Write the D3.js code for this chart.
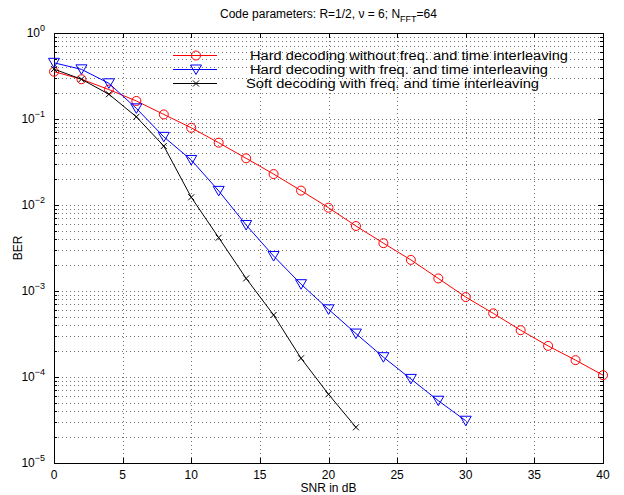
<!DOCTYPE html>
<html lang="en">
<head>
    <meta charset="UTF-8">
    <title>BER vs SNR</title>
    <script src="https://d3js.org/d3.v7.js"></script>
    <style>
        body { margin: 0; background: #fff; }
        text { font-family: "Liberation Sans", Arial, sans-serif; fill: #000; }
    </style>
</head>
<body>
<script>
    // SNR points (dB)
    const snrHard = [0, 2, 4, 6, 8, 10, 12, 14, 16, 18, 20, 22, 24, 26, 28, 30, 32, 34, 36, 38, 40];
    const snrHardIl = [0, 2, 4, 6, 8, 10, 12, 14, 16, 18, 20, 22, 24, 26, 28, 30];
    const snrSoftIl = [0, 2, 4, 6, 8, 10, 12, 14, 16, 18, 20, 22];

    // BER values
    const berHard = [0.355, 0.29, 0.22, 0.162, 0.113, 0.079, 0.053, 0.0349, 0.0229, 0.0147, 0.0093,
        0.0057, 0.0036, 0.0023, 0.0014, 0.00085, 0.00055, 0.00035, 0.00023, 0.000157, 0.000105];
    const berHardIl = [0.45, 0.378, 0.26, 0.133, 0.062, 0.0334, 0.0146, 0.00585, 0.00255, 0.0012, 0.000612,
        0.00032, 0.00017, 0.000095, 0.000053, 0.000031];
    const berSoftIl = [0.38, 0.29, 0.194, 0.106, 0.0485, 0.0123, 0.00417, 0.0014, 0.000526, 0.000165, 0.000063, 0.000026];

    const legendLabels = [
        "Hard decoding without freq. and time interleaving",
        "Hard decoding with freq. and time interleaving",
        "Soft decoding with freq. and time interleaving"
    ];
    const xTicks = [0, 5, 10, 15, 20, 25, 30, 35, 40];
    const yExps = [0, -1, -2, -3, -4, -5];

    const width = 624, height = 495;
    const m = {left: 54, top: 33, right: 21, bottom: 32};
    const w = width - m.left - m.right, h = height - m.top - m.bottom;

    const svg = d3.select("body").append("svg")
        .attr("width", width).attr("height", height);

    const x = d3.scaleLinear().domain([0, 40]).range([m.left, m.left + w]);
    const y = d3.scaleLog().domain([1e-5, 1]).range([m.top + h, m.top]);

    // minor positions on the log axis
    const minor = [];
    yExps.slice(1).forEach(e => { for (let k = 2; k <= 9; k++) minor.push(k * Math.pow(10, e)); });

    const grid = svg.append("g").attr("stroke", "#000").attr("stroke-width", 1)
        .attr("stroke-dasharray", "1,3").attr("opacity", 0.55);
    grid.selectAll("line.gx").data(xTicks.slice(1, -1)).enter().append("line")
        .attr("x1", d => Math.round(x(d)) + 0.5).attr("x2", d => Math.round(x(d)) + 0.5)
        .attr("y1", m.top).attr("y2", m.top + h);
    grid.selectAll("line.gy").data(minor.concat(yExps.slice(1, -1).map(e => Math.pow(10, e)))).enter().append("line")
        .attr("y1", d => Math.round(y(d)) + 0.5).attr("y2", d => Math.round(y(d)) + 0.5)
        .attr("x1", m.left).attr("x2", m.left + w);

    // box
    svg.append("rect").attr("x", m.left + 0.5).attr("y", m.top + 0.5)
        .attr("width", w).attr("height", h)
        .attr("fill", "none").attr("stroke", "#000").attr("stroke-width", 1);

    // ticks (inside, both sides)
    const ticks = svg.append("g").attr("stroke", "#000").attr("stroke-width", 1);
    xTicks.forEach(t => {
        const xx = Math.round(x(t)) + 0.5;
        ticks.append("line").attr("x1", xx).attr("x2", xx).attr("y1", m.top + h).attr("y2", m.top + h - 5);
        ticks.append("line").attr("x1", xx).attr("x2", xx).attr("y1", m.top).attr("y2", m.top + 5);
    });
    yExps.forEach(e => {
        const yy = Math.round(y(Math.pow(10, e))) + 0.5;
        ticks.append("line").attr("y1", yy).attr("y2", yy).attr("x1", m.left).attr("x2", m.left + 5);
        ticks.append("line").attr("y1", yy).attr("y2", yy).attr("x1", m.left + w).attr("x2", m.left + w - 5);
    });
    minor.forEach(v => {
        const yy = Math.round(y(v)) + 0.5;
        ticks.append("line").attr("y1", yy).attr("y2", yy).attr("x1", m.left).attr("x2", m.left + 3);
        ticks.append("line").attr("y1", yy).attr("y2", yy).attr("x1", m.left + w).attr("x2", m.left + w - 3);
    });

    // tick labels
    svg.append("g").selectAll("text").data(xTicks).enter().append("text")
        .attr("x", d => x(d)).attr("y", m.top + h + 16)
        .attr("text-anchor", "middle").attr("font-size", 12).text(d => d);

    const yl = svg.append("g").selectAll("text").data(yExps).enter().append("text")
        .attr("x", m.left - 9).attr("y", d => y(Math.pow(10, d)) + 4)
        .attr("text-anchor", "end").attr("font-size", 12);
    yl.append("tspan").text("10");
    yl.append("tspan").attr("font-size", 9).attr("dy", -6).text(d => d === 0 ? "0" : "\u2212" + (-d));

    // axis titles
    svg.append("text").attr("x", m.left + w / 2).attr("y", height - 3)
        .attr("text-anchor", "middle").attr("font-size", 12).text("SNR in dB");
    svg.append("text").attr("transform", `translate(22,${m.top + h / 2}) rotate(-90)`)
        .attr("text-anchor", "middle").attr("font-size", 12).text("BER");

    const title = svg.append("text").attr("x", m.left + w / 2).attr("y", 18)
        .attr("text-anchor", "middle").attr("font-size", 12);
    title.append("tspan").text("Code parameters: R=1/2, \u03bd = 6; N");
    title.append("tspan").attr("font-size", 9).attr("dy", 4).text("FFT");
    title.append("tspan").attr("dy", -4).text("=64");

    // series
    const series = [
        {xs: snrHard, ys: berHard, color: "#ff0000", marker: "circle"},
        {xs: snrHardIl, ys: berHardIl, color: "#0000ff", marker: "tri"},
        {xs: snrSoftIl, ys: berSoftIl, color: "#000000", marker: "x"}
    ];
    const line = d3.line().x(d => x(d[0])).y(d => y(d[1]));

    function drawMarker(g, cx, cy, s) {
        if (s.marker === "circle") {
            g.append("circle").attr("cx", cx).attr("cy", cy).attr("r", 4.5)
                .attr("fill", "none").attr("stroke", s.color).attr("stroke-width", 1);
        } else if (s.marker === "tri") {
            g.append("path").attr("d", `M${cx - 5.5},${cy - 4.5}L${cx + 5.5},${cy - 4.5}L${cx},${cy + 5}Z`)
                .attr("fill", "none").attr("stroke", s.color).attr("stroke-width", 1);
        } else {
            g.append("path").attr("d", `M${cx - 3},${cy - 3}L${cx + 3},${cy + 3}M${cx - 3},${cy + 3}L${cx + 3},${cy - 3}`)
                .attr("stroke", s.color).attr("stroke-width", 1);
        }
    }

    series.forEach(s => {
        const pts = s.xs.map((v, i) => [v, s.ys[i]]);
        const g = svg.append("g");
        g.append("path").datum(pts).attr("d", line)
            .attr("fill", "none").attr("stroke", s.color).attr("stroke-width", 1);
        pts.forEach(p => drawMarker(g, x(p[0]), y(p[1]), s));
    });

    // legend (no box)
    const legY = [55.5, 69.5, 83.5];
    const legTextX = [250, 250, 246];
    const legTextLen = [318, 298, 293];
    series.forEach((s, i) => {
        const g = svg.append("g");
        g.append("line").attr("x1", 173).attr("x2", 217).attr("y1", legY[i]).attr("y2", legY[i])
            .attr("stroke", s.color).attr("stroke-width", 1);
        drawMarker(g, 196, legY[i], s);
        g.append("text").attr("x", legTextX[i]).attr("y", legY[i] + 4.5)
            .attr("font-size", 12).attr("textLength", legTextLen[i])
            .attr("lengthAdjust", "spacingAndGlyphs").text(legendLabels[i]);
    });
</script>
</body>
</html>
